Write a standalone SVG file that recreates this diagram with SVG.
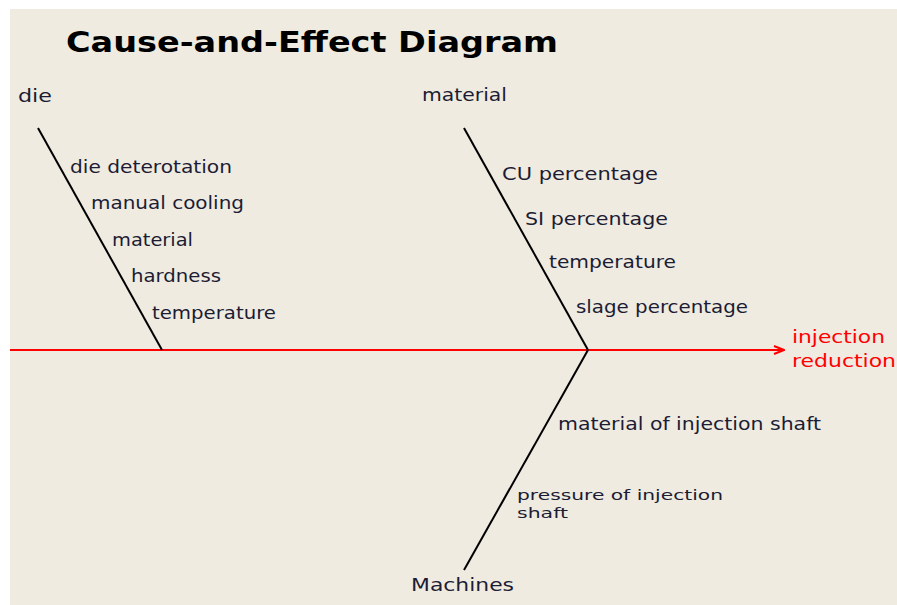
<svg xmlns="http://www.w3.org/2000/svg" width="897" height="605" viewBox="0 0 897 605">
<style>
.t{font-family:"DejaVu Sans","Verdana",sans-serif;font-size:17px;fill:#1c1c34}
.s{font-family:"DejaVu Sans","Verdana",sans-serif;font-size:14px;fill:#1c1c34}
.title{font-family:"DejaVu Sans","Verdana",sans-serif;font-size:28px;font-weight:bold;fill:#000}
.red{font-family:"DejaVu Sans","Verdana",sans-serif;font-size:17px;fill:#ff0000}
.bone{stroke:#000;stroke-width:2;fill:none}
.spine{stroke:#ff0000;stroke-width:2;fill:none}
</style>
<defs>
<marker id="arr" markerWidth="12" markerHeight="10" refX="11" refY="5" orient="auto" markerUnits="userSpaceOnUse">
<path d="M1,1 L11,5 L1,9" fill="none" stroke="#ff0000" stroke-width="2"/>
</marker>
</defs>
<rect x="0" y="0" width="897" height="605" fill="#ffffff"/>
<rect x="10" y="9" width="887" height="596" fill="#efebe1"/>
<g id="title">
<text class="title" x="66" y="52" textLength="492" lengthAdjust="spacingAndGlyphs">Cause-and-Effect Diagram</text>
</g>
<g id="connectors">
<line class="spine" x1="10" y1="350" x2="784" y2="350" marker-end="url(#arr)"/>
<line class="bone" x1="38" y1="128" x2="162" y2="350"/>
<line class="bone" x1="464" y1="128" x2="588" y2="350"/>
<line class="bone" x1="588" y1="350" x2="464" y2="570"/>
</g>
<g id="effect">
<text class="red" x="792" y="343" textLength="93" lengthAdjust="spacingAndGlyphs">injection</text>
<text class="red" x="792" y="367" textLength="104" lengthAdjust="spacingAndGlyphs">reduction</text>
</g>
<g id="cause-die">
<text class="t" x="18" y="102" textLength="34" lengthAdjust="spacingAndGlyphs">die</text>
<text class="t" x="70" y="173" textLength="162" lengthAdjust="spacingAndGlyphs">die deterotation</text>
<text class="t" x="91" y="209" textLength="153" lengthAdjust="spacingAndGlyphs">manual cooling</text>
<text class="t" x="112" y="246" textLength="81" lengthAdjust="spacingAndGlyphs">material</text>
<text class="t" x="131" y="282" textLength="90" lengthAdjust="spacingAndGlyphs">hardness</text>
<text class="t" x="152" y="319" textLength="124" lengthAdjust="spacingAndGlyphs">temperature</text>
</g>
<g id="cause-material">
<text class="t" x="422" y="101" textLength="85" lengthAdjust="spacingAndGlyphs">material</text>
<text class="t" x="502" y="180" textLength="156" lengthAdjust="spacingAndGlyphs">CU percentage</text>
<text class="t" x="525" y="225" textLength="143" lengthAdjust="spacingAndGlyphs">SI percentage</text>
<text class="t" x="549" y="268" textLength="127" lengthAdjust="spacingAndGlyphs">temperature</text>
<text class="t" x="576" y="313" textLength="172" lengthAdjust="spacingAndGlyphs">slage percentage</text>
</g>
<g id="cause-machines">
<text class="t" x="558" y="430" textLength="263" lengthAdjust="spacingAndGlyphs">material of injection shaft</text>
<text class="s" x="517" y="500" textLength="206" lengthAdjust="spacingAndGlyphs">pressure of injection</text>
<text class="s" x="517" y="518" textLength="51" lengthAdjust="spacingAndGlyphs">shaft</text>
<text class="t" x="411" y="591" textLength="103" lengthAdjust="spacingAndGlyphs">Machines</text>
</g>
</svg>
